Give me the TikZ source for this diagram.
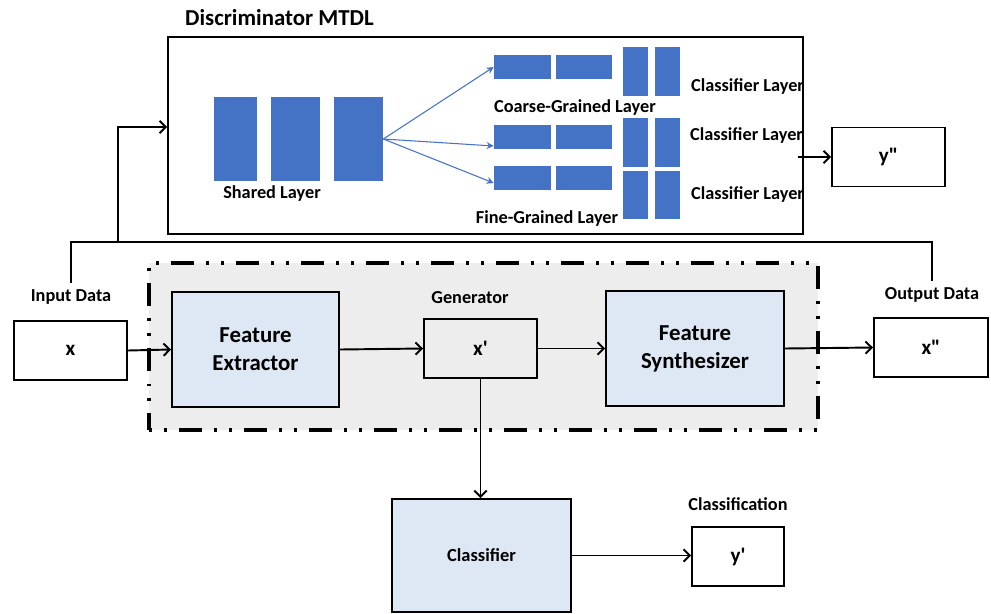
\documentclass[tikz,border=0pt]{standalone}
\usepackage{fontspec}
\setmainfont{Carlito}
\usetikzlibrary{arrows.meta}

\definecolor{layerblue}{HTML}{4472C4}
\definecolor{boxblue}{HTML}{DEE8F4}
\definecolor{genbg}{HTML}{EDEDED}

\begin{document}
\begin{tikzpicture}[
  x=0.02cm, y=-0.02cm,
  box/.style={draw,line width=1.1pt,fill=white,inner sep=0pt,
    minimum width=2.26cm,minimum height=1.18cm,
    font=\bfseries\fontsize{12}{14}\selectfont},
  block/.style={draw,line width=1.1pt,fill=boxblue,inner sep=0pt,align=center,
    minimum width=3.34cm,minimum height=2.3cm,
    font=\bfseries\fontsize{13}{16}\selectfont},
  unit/.style={fill=layerblue,inner sep=0pt},
  lbl/.style={font=\bfseries\fontsize{10.4}{12}\selectfont},
  arr/.style={-{Straight Barb[length=3.5pt,width=7pt]},line width=1.1pt},
  fan/.style={-{Stealth[length=4pt,width=4pt]},layerblue,line width=0.6pt}
]
\useasboundingbox (0,0) rectangle (991,613);

% ---- Discriminator ----
\node[draw,line width=1.1pt,inner sep=0pt,minimum width=12.7cm,minimum height=3.94cm]
  (disc) at (485.5,135.5) {};
\node[anchor=west,font=\bfseries\fontsize{13}{15}\selectfont] (dtitle) at (179,18) {Discriminator MTDL};

% shared layer
\node[unit,minimum width=0.86cm,minimum height=1.68cm] (sh1) at (235.5,139) {};
\node[unit,minimum width=0.98cm,minimum height=1.68cm] (sh2) at (295.5,139) {};
\node[unit,minimum width=0.98cm,minimum height=1.68cm] (sh3) at (358.5,139) {};
\node[lbl] (shlbl) at (272,194) {Shared Layer};

% coarse / fine branches
\foreach \n/\y in {co/67,fa/136.5,fb/177.5}{
  \node[unit,minimum width=1.14cm,minimum height=0.48cm] (\n1) at (522.5,\y) {};
  \node[unit,minimum width=1.12cm,minimum height=0.48cm] (\n2) at (584,\y) {};
}
\node[lbl] (colbl) at (575,108) {Coarse-Grained Layer};
\node[lbl] (filbl) at (547,219) {Fine-Grained Layer};

% classifier layers
\foreach \n/\y in {ca/71.5,cb/142.5,cc/195}{
  \node[unit,minimum width=0.5cm,minimum height=0.97cm] (\n1) at (635.5,\y) {};
  \node[unit,minimum width=0.5cm,minimum height=0.97cm] (\n2) at (667.5,\y) {};
}
\node[lbl,anchor=west] (cal) at (685,87) {Classifier Layer};
\node[lbl,anchor=west] (cbl) at (684,136) {Classifier Layer};
\node[lbl,anchor=west] (ccl) at (685,195) {Classifier Layer};

\draw[fan] (sh3.east) -- (co1.west);
\draw[fan] (sh3.east) -- ([yshift=-0.19cm]fa1.west);
\draw[fan] (sh3.east) -- ([yshift=-0.11cm]fb1.west);

\node[box] (ydd) at (888.5,157) {y\textquotedbl};
\draw[arr] ([xshift=-0.12cm]disc.east |- ydd.west) -- (ydd.west);

% ---- Generator ----
\node[fill=genbg,draw,line width=1.8pt,inner sep=0pt,
  dash pattern=on 1.7pt off 6.8pt on 1.7pt off 6.8pt on 13pt off 7pt,
  minimum width=13.38cm,minimum height=3.34cm] (gen) at (483.5,346.5) {};
\node[lbl] (genlbl) at (470,298) {Generator};

\node[box] (x) at (70.5,350.5) {x};
\node[lbl] (inlbl) at (71,297) {Input Data};
\node[block] (fe) at (255.5,349.5) {Feature\\Extractor};
\node[box,fill=none] (xp) at (480.5,348.5) {x\textquotesingle};
\node[block,minimum width=3.56cm] (fs) at (695,348.5) {Feature\\Synthesizer};
\node[box,minimum width=2.28cm] (xdd) at (931,347.5) {x\textquotedbl};
\node[lbl] (outlbl) at (932,295) {Output Data};

\draw[arr] (x.east) -- (fe.west);
\draw[arr] (fe.east) -- (xp.west);
\draw[arr] (xp.east) -- (fs.west);
\draw[arr] (fs.east) -- (xdd.west);

% feedback bus to the discriminator
\coordinate (bus) at (0,242);
\coordinate (tap) at (118,242);
\draw[line width=1.1pt] (inlbl.north) -- (inlbl.north |- bus) -- (outlbl.north |- bus) -- (outlbl.north);
\draw[arr] (tap) |- ([yshift=0.17cm]disc.west);

% ---- Classifier ----
\node[block,minimum width=3.58cm,minimum height=2.26cm,
  font=\bfseries\fontsize{10.5}{12}\selectfont] (cls) at (481.5,555.5) {Classifier};
\node[box,minimum width=1.84cm] (yp) at (738,556.5) {y\textquotesingle};
\node[lbl] (clslbl) at (738,504) {Classification};

\draw[arr] (xp.south) -- (xp.south |- cls.north);
\draw[arr] (cls.east) -- (cls.east -| yp.west);
\end{tikzpicture}
\end{document}
